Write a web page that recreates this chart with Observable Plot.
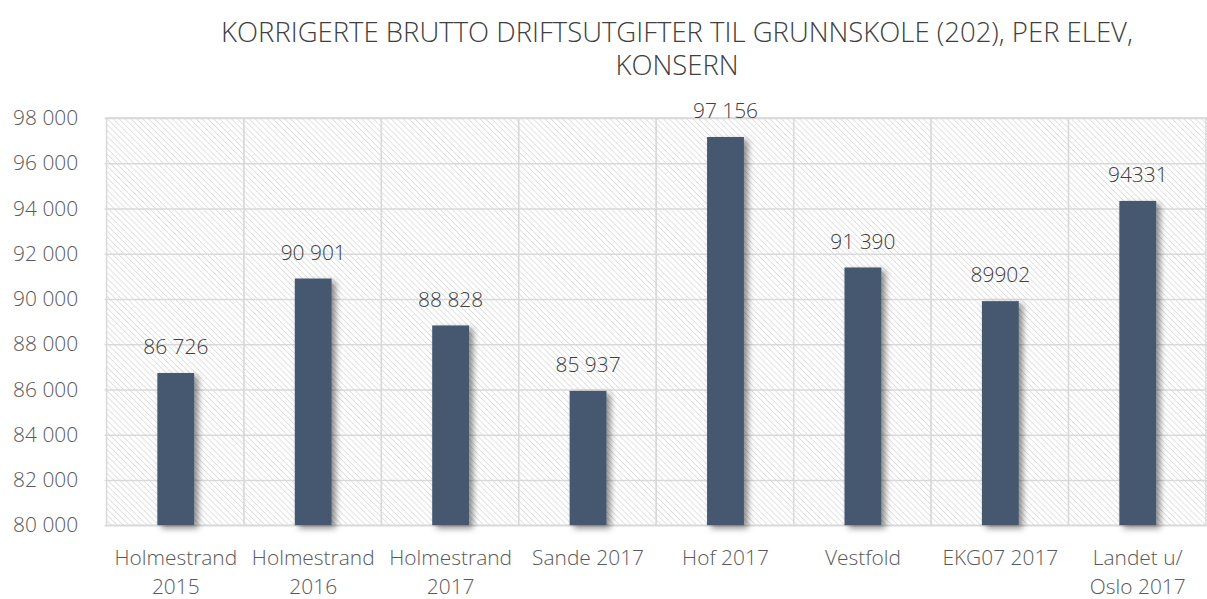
<!DOCTYPE html>
<html>
<head>
<meta charset="utf-8">
<script src="https://cdn.jsdelivr.net/npm/d3@7"></script>
<script src="https://cdn.jsdelivr.net/npm/@observablehq/plot@0.6"></script>
<style>
  html, body { margin: 0; padding: 0; background: #fff; overflow: hidden; width: 1207px; height: 599px; }
  #title { height: 95px; width: 1207px; position: relative; font-family: "Open Sans", sans-serif; font-weight: 300; font-size: 27.5px; line-height: 30px; color: #404040; }
  #title div { position: absolute; left: 0; width: 1354px; text-align: center; white-space: nowrap; }
  #chart svg { display: block; }
</style>
</head>
<body>
<div id="title"><div style="top:17px">KORRIGERTE BRUTTO DRIFTSUTGIFTER TIL GRUNNSKOLE (202), PER ELEV,</div><div style="top:50px">KONSERN</div></div>
<div id="chart"></div>
<script>
const categories = ["Holmestrand\n2015", "Holmestrand\n2016", "Holmestrand\n2017", "Sande 2017", "Hof 2017", "Vestfold", "EKG07 2017", "Landet u/\nOslo 2017"];
const values = [86726, 90901, 88828, 85937, 97156, 91390, 89902, 94331];
const valueLabels = ["86 726", "90 901", "88 828", "85 937", "97 156", "91 390", "89902", "94331"];
const yTicks = [80000, 82000, 84000, 86000, 88000, 90000, 92000, 94000, 96000, 98000];

const data = categories.map((c, i) => ({cat: c, value: values[i], label: valueLabels[i]}));
const font = "Open Sans, sans-serif";

const plot = Plot.plot({
  width: 1212,
  height: 504,
  marginLeft: 105,
  marginRight: 0,
  marginTop: 23,
  marginBottom: 72,
  style: {fontFamily: font, fontSize: "21px", color: "#595959", background: "transparent"},
  x: {domain: categories, padding: 0, label: null},
  y: {domain: [80000, 98000], label: null},
  marks: [
    Plot.cell(categories, {x: d => d, fill: "url(#hatch)", stroke: "#d9d9d9", strokeWidth: 1.5}),
    Plot.gridY(yTicks, {stroke: "#d9d9d9", strokeOpacity: 1, strokeWidth: 1.5}),
    Plot.barY(data, {x: "cat", y1: 80000, y2: "value", fill: "#44586f", insetLeft: 51, insetRight: 50}),
    Plot.text(data, {x: "cat", y: "value", text: "label", dy: -26, fill: "#404040", fontSize: 21, fontWeight: 300}),
    Plot.axisY(yTicks, {tickSize: 0, tickPadding: 27, tickFormat: d => d3.format(",")(d).replace(",", " "), fontSize: 21, fontWeight: 300, fill: "#595959"}),
    Plot.axisX({tickSize: 0, tickPadding: 19, lineHeight: 1.38, fontSize: 21, fontWeight: 300, fill: "#595959"})
  ]
});

const svg = d3.select(plot);
const defs = svg.insert("defs", ":first-child");
const pat = defs.append("pattern").attr("id", "hatch").attr("patternUnits", "userSpaceOnUse")
  .attr("width", 4.2).attr("height", 4.2).attr("patternTransform", "rotate(-45)");
pat.append("rect").attr("width", 4.2).attr("height", 4.2).attr("fill", "#ffffff");
pat.append("line").attr("x1", 0).attr("y1", 0).attr("x2", 0).attr("y2", 4.2).attr("stroke", "#cfcfcf").attr("stroke-width", 1.2);
const flt = defs.append("filter").attr("id", "shadow").attr("x", "-20%").attr("y", "-20%").attr("width", "160%").attr("height", "140%");
flt.append("feDropShadow").attr("dx", 4).attr("dy", 3).attr("stdDeviation", 3).attr("flood-color", "#000").attr("flood-opacity", 0.45);
svg.selectAll("g[aria-label='bar']").attr("filter", "url(#shadow)");

document.getElementById("chart").appendChild(plot);
</script>
</body>
</html>
